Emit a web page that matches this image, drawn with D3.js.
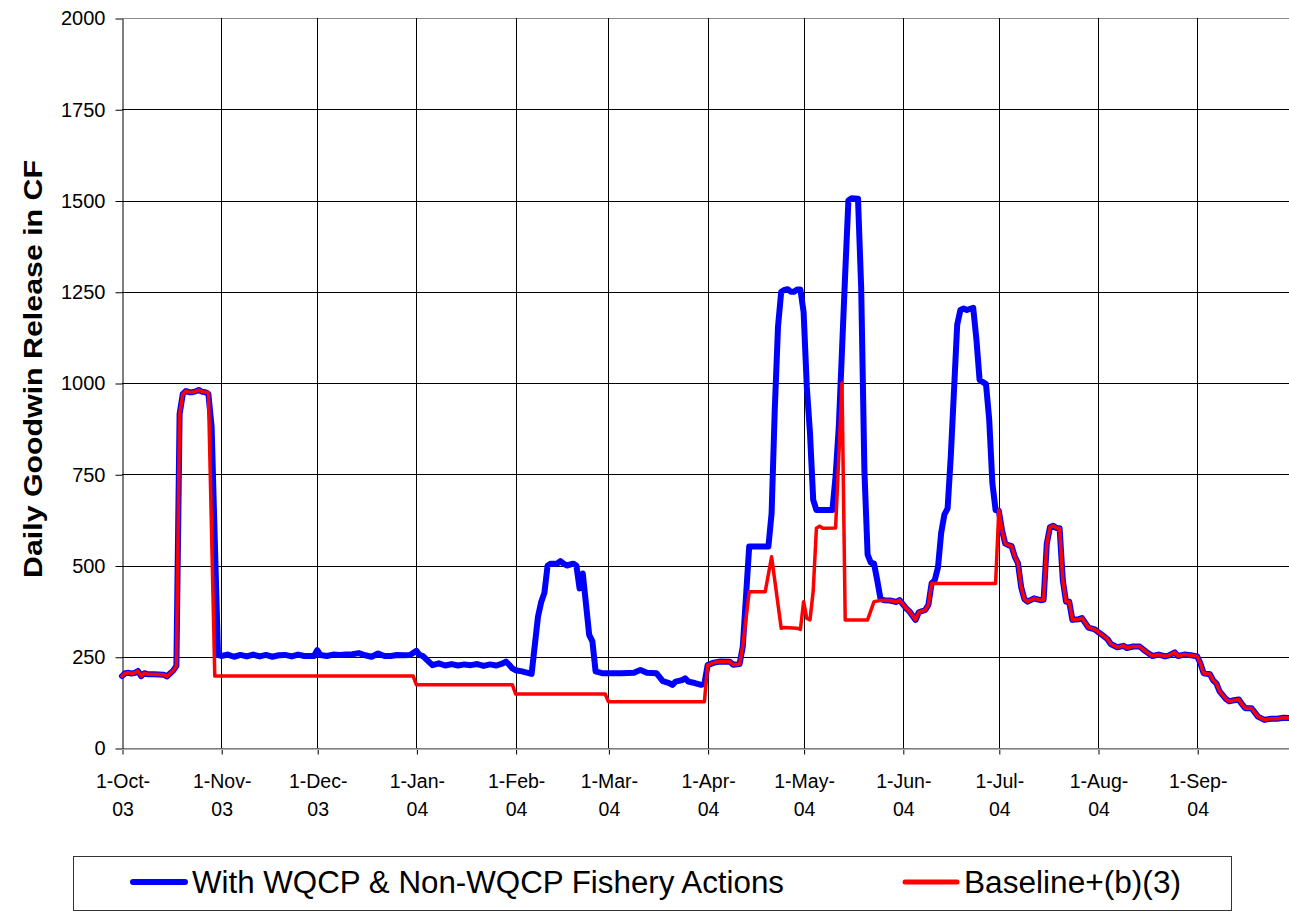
<!DOCTYPE html>
<html>
<head>
<meta charset="utf-8">
<script src="https://cdn.jsdelivr.net/npm/d3@7"></script>
<style>
  body { margin: 0; background: #fff; }
  text { font-family: "Liberation Sans", Arial, sans-serif; fill: #000; }
</style>
</head>
<body>
<div class="chart"></div>
<script>
const svgWidth = 1289
const svgHeight = 913

// plot box in page pixels
const plot = { left: 122, right: 1290, top: 18, bottom: 748 }

// y axis ticks
const yTicks = [0, 250, 500, 750, 1000, 1250, 1500, 1750, 2000]

// x axis ticks (first of each month)
const monthTicks = ["2003-10-01", "2003-11-01", "2003-12-01", "2004-01-01", "2004-02-01", "2004-03-01",
  "2004-04-01", "2004-05-01", "2004-06-01", "2004-07-01", "2004-08-01", "2004-09-01"]

const seriesNames = ["With WQCP & Non-WQCP Fishery Actions", "Baseline+(b)(3)"]

// daily release, vertices [date, cfs]
const withActions = [
  ["2003-10-01", 197], ["2003-10-02", 205], ["2003-10-03", 206], ["2003-10-04", 204], ["2003-10-05", 206],
  ["2003-10-06", 211], ["2003-10-07", 197], ["2003-10-08", 205], ["2003-10-09", 202], ["2003-10-11", 202],
  ["2003-10-14", 201], ["2003-10-15", 196], ["2003-10-16", 204], ["2003-10-17", 212], ["2003-10-18", 225],
  ["2003-10-19", 915], ["2003-10-20", 970], ["2003-10-21", 978], ["2003-10-22", 975], ["2003-10-23", 975],
  ["2003-10-24", 977], ["2003-10-25", 981], ["2003-10-26", 976], ["2003-10-27", 975], ["2003-10-28", 970],
  ["2003-10-29", 880], ["2003-10-31", 255],
  ["2003-11-01", 252], ["2003-11-03", 256], ["2003-11-05", 250], ["2003-11-07", 255], ["2003-11-09", 251],
  ["2003-11-11", 256], ["2003-11-13", 251], ["2003-11-15", 255], ["2003-11-17", 250], ["2003-11-19", 254],
  ["2003-11-21", 255], ["2003-11-23", 251], ["2003-11-25", 256], ["2003-11-27", 252], ["2003-11-30", 252],
  ["2003-12-01", 268], ["2003-12-02", 255], ["2003-12-04", 252], ["2003-12-06", 256], ["2003-12-08", 255],
  ["2003-12-10", 256], ["2003-12-12", 257], ["2003-12-14", 260], ["2003-12-16", 254], ["2003-12-18", 250],
  ["2003-12-20", 259], ["2003-12-22", 252], ["2003-12-24", 252], ["2003-12-26", 255], ["2003-12-28", 254],
  ["2003-12-30", 255],
  ["2004-01-01", 266], ["2004-01-02", 255], ["2004-01-03", 252], ["2004-01-06", 227], ["2004-01-08", 232],
  ["2004-01-10", 226], ["2004-01-12", 230], ["2004-01-14", 226], ["2004-01-16", 229], ["2004-01-18", 227],
  ["2004-01-20", 230], ["2004-01-22", 225], ["2004-01-24", 229], ["2004-01-26", 226], ["2004-01-28", 232],
  ["2004-01-29", 237], ["2004-01-30", 228], ["2004-01-31", 218],
  ["2004-02-01", 213], ["2004-02-03", 210], ["2004-02-06", 203], ["2004-02-08", 360], ["2004-02-09", 400],
  ["2004-02-10", 425], ["2004-02-11", 500], ["2004-02-12", 505], ["2004-02-14", 505], ["2004-02-15", 512],
  ["2004-02-16", 505], ["2004-02-17", 500], ["2004-02-19", 505], ["2004-02-20", 500], ["2004-02-21", 437],
  ["2004-02-22", 478], ["2004-02-24", 310], ["2004-02-25", 292], ["2004-02-26", 210], ["2004-02-28", 205],
  ["2004-03-01", 205], ["2004-03-05", 205], ["2004-03-09", 206], ["2004-03-11", 214], ["2004-03-13", 206],
  ["2004-03-16", 205], ["2004-03-18", 183], ["2004-03-20", 178], ["2004-03-21", 173], ["2004-03-22", 182],
  ["2004-03-24", 186], ["2004-03-25", 191], ["2004-03-26", 182], ["2004-03-28", 178], ["2004-03-30", 173],
  ["2004-03-31", 176],
  ["2004-04-01", 227], ["2004-04-03", 234], ["2004-04-05", 237], ["2004-04-08", 236], ["2004-04-09", 228],
  ["2004-04-11", 230], ["2004-04-12", 278], ["2004-04-14", 552], ["2004-04-20", 552], ["2004-04-21", 643],
  ["2004-04-22", 930], ["2004-04-23", 1154], ["2004-04-24", 1250], ["2004-04-25", 1255], ["2004-04-26", 1257],
  ["2004-04-27", 1250], ["2004-04-28", 1250], ["2004-04-29", 1256], ["2004-04-30", 1256],
  ["2004-05-01", 1195], ["2004-05-02", 990], ["2004-05-03", 862], ["2004-05-04", 680], ["2004-05-05", 652],
  ["2004-05-10", 652], ["2004-05-11", 745], ["2004-05-12", 880], ["2004-05-13", 1090], ["2004-05-14", 1300],
  ["2004-05-15", 1500], ["2004-05-16", 1506], ["2004-05-18", 1505], ["2004-05-19", 1260], ["2004-05-20", 760],
  ["2004-05-21", 530], ["2004-05-22", 508], ["2004-05-23", 505], ["2004-05-24", 460], ["2004-05-25", 410],
  ["2004-05-26", 405], ["2004-05-28", 404], ["2004-05-30", 400], ["2004-05-31", 405],
  ["2004-06-02", 383], ["2004-06-03", 375], ["2004-06-05", 351], ["2004-06-06", 372], ["2004-06-08", 378],
  ["2004-06-09", 392], ["2004-06-10", 451], ["2004-06-11", 460], ["2004-06-12", 495], ["2004-06-13", 590],
  ["2004-06-14", 640], ["2004-06-15", 656], ["2004-06-16", 800], ["2004-06-17", 980], ["2004-06-18", 1160],
  ["2004-06-19", 1200], ["2004-06-20", 1204], ["2004-06-21", 1200], ["2004-06-23", 1206], ["2004-06-24", 1120],
  ["2004-06-25", 1008], ["2004-06-27", 997], ["2004-06-28", 900], ["2004-06-29", 725], ["2004-06-30", 652],
  ["2004-07-01", 650], ["2004-07-02", 597], ["2004-07-03", 560], ["2004-07-04", 556], ["2004-07-05", 553],
  ["2004-07-06", 524], ["2004-07-07", 506], ["2004-07-08", 440], ["2004-07-09", 408], ["2004-07-10", 401],
  ["2004-07-12", 410], ["2004-07-14", 405], ["2004-07-15", 406], ["2004-07-16", 560], ["2004-07-17", 605],
  ["2004-07-18", 609], ["2004-07-19", 603], ["2004-07-20", 602], ["2004-07-21", 460], ["2004-07-22", 401],
  ["2004-07-23", 401], ["2004-07-24", 351], ["2004-07-26", 353], ["2004-07-27", 356], ["2004-07-29", 330],
  ["2004-07-31", 325],
  ["2004-08-01", 318], ["2004-08-02", 312], ["2004-08-04", 298], ["2004-08-05", 285], ["2004-08-07", 276],
  ["2004-08-09", 280], ["2004-08-10", 274], ["2004-08-12", 278], ["2004-08-14", 278], ["2004-08-16", 264],
  ["2004-08-18", 252], ["2004-08-20", 256], ["2004-08-22", 251], ["2004-08-23", 253], ["2004-08-25", 262],
  ["2004-08-26", 252], ["2004-08-28", 256], ["2004-08-30", 254],
  ["2004-09-01", 251], ["2004-09-02", 232], ["2004-09-03", 205], ["2004-09-05", 202], ["2004-09-06", 185],
  ["2004-09-07", 177], ["2004-09-08", 155], ["2004-09-10", 134], ["2004-09-11", 128], ["2004-09-12", 130],
  ["2004-09-14", 133], ["2004-09-15", 120], ["2004-09-16", 109], ["2004-09-18", 109], ["2004-09-20", 86],
  ["2004-09-22", 77], ["2004-09-24", 80], ["2004-09-26", 80], ["2004-09-28", 83], ["2004-09-30", 82]
]

const baseline = [
  ["2003-10-01", 197], ["2003-10-02", 205], ["2003-10-03", 206], ["2003-10-04", 204], ["2003-10-05", 206],
  ["2003-10-06", 211], ["2003-10-07", 197], ["2003-10-08", 205], ["2003-10-09", 202], ["2003-10-11", 202],
  ["2003-10-14", 201], ["2003-10-15", 196], ["2003-10-16", 204], ["2003-10-17", 212], ["2003-10-18", 225],
  ["2003-10-19", 915], ["2003-10-20", 970], ["2003-10-21", 978], ["2003-10-22", 975], ["2003-10-23", 975],
  ["2003-10-24", 977], ["2003-10-25", 981], ["2003-10-26", 976], ["2003-10-27", 975], ["2003-10-28", 975],
  ["2003-10-29", 585], ["2003-10-30", 197],
  ["2003-12-31", 197], ["2004-01-01", 173], ["2004-01-31", 173], ["2004-02-01", 148], ["2004-02-29", 148],
  ["2004-03-01", 127], ["2004-03-31", 127],
  ["2004-04-01", 227], ["2004-04-03", 234], ["2004-04-05", 237], ["2004-04-08", 236], ["2004-04-09", 228],
  ["2004-04-11", 230], ["2004-04-12", 280], ["2004-04-14", 428], ["2004-04-19", 428], ["2004-04-21", 524],
  ["2004-04-24", 328], ["2004-04-25", 330], ["2004-04-29", 328], ["2004-04-30", 325],
  ["2004-05-01", 401], ["2004-05-02", 355], ["2004-05-03", 351], ["2004-05-04", 430], ["2004-05-05", 602],
  ["2004-05-06", 608], ["2004-05-07", 602], ["2004-05-11", 603], ["2004-05-12", 800], ["2004-05-13", 1000],
  ["2004-05-14", 351], ["2004-05-21", 351], ["2004-05-23", 401], ["2004-05-25", 404],
  ["2004-05-26", 405], ["2004-05-28", 404], ["2004-05-30", 400], ["2004-05-31", 405],
  ["2004-06-02", 383], ["2004-06-03", 375], ["2004-06-05", 351], ["2004-06-06", 372], ["2004-06-08", 378],
  ["2004-06-09", 392], ["2004-06-10", 451], ["2004-06-30", 451],
  ["2004-07-01", 652], ["2004-07-02", 597], ["2004-07-03", 560], ["2004-07-04", 556], ["2004-07-05", 553],
  ["2004-07-06", 524], ["2004-07-07", 506], ["2004-07-08", 440], ["2004-07-09", 408], ["2004-07-10", 401],
  ["2004-07-12", 410], ["2004-07-14", 405], ["2004-07-15", 406], ["2004-07-16", 560], ["2004-07-17", 605],
  ["2004-07-18", 609], ["2004-07-19", 603], ["2004-07-20", 602], ["2004-07-21", 460], ["2004-07-22", 401],
  ["2004-07-23", 401], ["2004-07-24", 351], ["2004-07-26", 353], ["2004-07-27", 356], ["2004-07-29", 330],
  ["2004-07-31", 325],
  ["2004-08-01", 318], ["2004-08-02", 312], ["2004-08-04", 298], ["2004-08-05", 285], ["2004-08-07", 276],
  ["2004-08-09", 280], ["2004-08-10", 274], ["2004-08-12", 278], ["2004-08-14", 278], ["2004-08-16", 264],
  ["2004-08-18", 252], ["2004-08-20", 256], ["2004-08-22", 251], ["2004-08-23", 253], ["2004-08-25", 262],
  ["2004-08-26", 252], ["2004-08-28", 256], ["2004-08-30", 254],
  ["2004-09-01", 251], ["2004-09-02", 232], ["2004-09-03", 205], ["2004-09-05", 202], ["2004-09-06", 185],
  ["2004-09-07", 177], ["2004-09-08", 155], ["2004-09-10", 134], ["2004-09-11", 128], ["2004-09-12", 130],
  ["2004-09-14", 133], ["2004-09-15", 120], ["2004-09-16", 109], ["2004-09-18", 109], ["2004-09-20", 86],
  ["2004-09-22", 77], ["2004-09-24", 80], ["2004-09-26", 80], ["2004-09-28", 83], ["2004-09-30", 82]
]

const parseDate = d3.timeParse("%Y-%m-%d")

let svg = d3
  .select(".chart")
  .append("svg")
  .attr("width", svgWidth)
  .attr("height", svgHeight)

let xScale = d3
  .scaleTime()
  .domain([parseDate("2003-10-01"), parseDate("2004-09-30")])
  .range([plot.left, plot.right])

let yScale = d3
  .scaleLinear()
  .domain([0, 2000])
  .range([plot.bottom, plot.top])

// horizontal gridlines
svg.append("g")
  .selectAll("line")
  .data(yTicks.filter(v => v > 0))
  .enter()
  .append("line")
  .attr("x1", plot.left)
  .attr("x2", plot.right)
  .attr("y1", d => Math.round(yScale(d)) + 0.5)
  .attr("y2", d => Math.round(yScale(d)) + 0.5)
  .attr("stroke", d => d === 2000 ? "#8c8c8c" : "#000")
  .attr("stroke-width", 1)

// vertical gridlines at month starts
svg.append("g")
  .selectAll("line")
  .data(monthTicks.slice(1).map(parseDate))
  .enter()
  .append("line")
  .attr("x1", d => Math.round(xScale(d)) + 0.5)
  .attr("x2", d => Math.round(xScale(d)) + 0.5)
  .attr("y1", plot.top)
  .attr("y2", plot.bottom)
  .attr("stroke", "#000")
  .attr("stroke-width", 1)

// y axis
let leftAxis = d3.axisLeft(yScale)
  .tickValues(yTicks)
  .tickFormat(d3.format("d"))
  .tickSize(7)
  .tickSizeOuter(0)
  .tickPadding(10)

let yAxis = svg.append("g")
  .attr("transform", `translate(${plot.left + 0.5}, 0.5)`)
  .call(leftAxis)
yAxis.select(".domain").attr("stroke", "#000")
yAxis.selectAll(".tick line").attr("stroke", "#000")
yAxis.selectAll(".tick text")
  .attr("font-size", 20)
  .attr("font-family", "Liberation Sans, Arial, sans-serif")
  .attr("fill", "#000")

// x axis
let bottomAxis = d3.axisBottom(xScale)
  .tickValues(monthTicks.map(parseDate))
  .tickSize(6)
  .tickSizeOuter(0)
  .tickFormat("")

let xAxis = svg.append("g")
  .attr("transform", `translate(0.5, ${plot.bottom + 0.5})`)
  .call(bottomAxis)
xAxis.select(".domain").attr("stroke", "#000")
xAxis.selectAll(".tick line").attr("stroke", "#000")

// second, grey rule under the x axis
svg.append("line")
  .attr("x1", plot.left)
  .attr("x2", plot.right)
  .attr("y1", plot.bottom + 1.5)
  .attr("y2", plot.bottom + 1.5)
  .attr("stroke", "#b0b0b0")

const fmtTop = d3.timeFormat("%-d-%b-")
const fmtBottom = d3.timeFormat("%y")

let xLabels = xAxis.selectAll(".tick")
  .append("text")
  .attr("text-anchor", "middle")
  .attr("font-size", 19.5)
  .attr("fill", "#000")
xLabels.append("tspan").attr("x", 0).attr("y", 39).text(d => fmtTop(d))
xLabels.append("tspan").attr("x", 0).attr("y", 67).text(d => fmtBottom(d))

// y axis title
svg.append("text")
  .attr("transform", `translate(42, 369) rotate(-90)`)
  .attr("text-anchor", "middle")
  .attr("font-size", 25)
  .attr("font-weight", "bold")
  .attr("textLength", 418)
  .attr("lengthAdjust", "spacingAndGlyphs")
  .text("Daily Goodwin Release in CF")

// lines
let line = d3.line()
  .x(d => xScale(parseDate(d[0])))
  .y(d => yScale(d[1]))

svg.append("path")
  .datum(withActions)
  .attr("fill", "none")
  .attr("stroke", "#0000ff")
  .attr("stroke-width", 6)
  .attr("stroke-linejoin", "round")
  .attr("stroke-linecap", "round")
  .attr("d", line)

svg.append("path")
  .datum(baseline)
  .attr("fill", "none")
  .attr("stroke", "#ff0000")
  .attr("stroke-width", 3.5)
  .attr("stroke-linejoin", "round")
  .attr("stroke-linecap", "round")
  .attr("d", line)

// legend
let legend = svg.append("g")

legend.append("rect")
  .attr("x", 73.5)
  .attr("y", 856.5)
  .attr("width", 1158)
  .attr("height", 54)
  .attr("fill", "#fff")
  .attr("stroke", "#333")

const legendItems = [
  { name: seriesNames[0], color: "#0000ff", width: 6, x: 133, textWidth: 592 },
  { name: seriesNames[1], color: "#ff0000", width: 5, x: 905, textWidth: 217 }
]

legendItems.forEach(item => {
  legend.append("line")
    .attr("x1", item.x)
    .attr("x2", item.x + 52)
    .attr("y1", 882)
    .attr("y2", 882)
    .attr("stroke", item.color)
    .attr("stroke-width", item.width)
    .attr("stroke-linecap", "round")
  legend.append("text")
    .attr("x", item.x + 59)
    .attr("y", 893)
    .attr("font-size", 31)
    .attr("textLength", item.textWidth)
    .attr("lengthAdjust", "spacingAndGlyphs")
    .text(item.name)
})
</script>
</body>
</html>
